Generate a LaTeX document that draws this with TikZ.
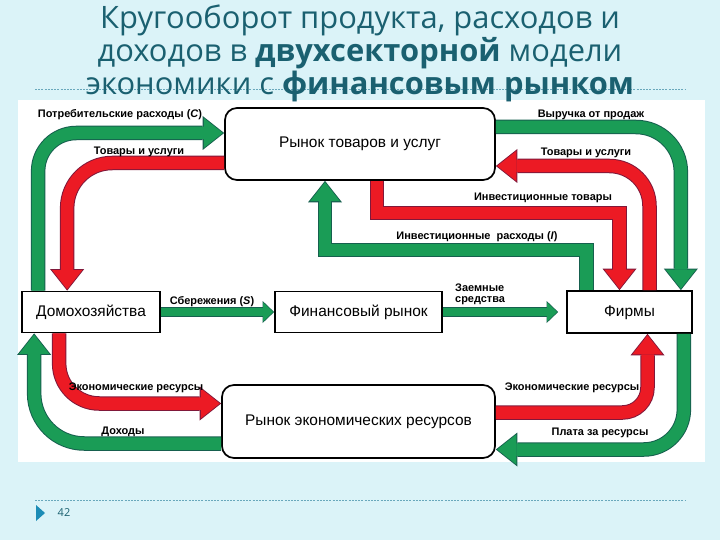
\documentclass[tikz,border=0pt]{standalone}
\usepackage{fontspec}
\setmainfont{Liberation Sans}
\newfontfamily\titlefont{Open Sans}
\usetikzlibrary{calc,positioning,arrows.meta}

\definecolor{bgcyan}{RGB}{219,243,248}
\definecolor{titleteal}{RGB}{26,96,112}
\definecolor{dashcol}{RGB}{105,168,188}
\definecolor{triblue}{RGB}{28,140,182}
\definecolor{flowgreen}{RGB}{26,156,86}
\definecolor{edgegreen}{RGB}{22,96,78}
\definecolor{flowred}{RGB}{236,26,36}
\definecolor{edgered}{RGB}{128,24,58}

\begin{document}
\begin{tikzpicture}[x=1bp, y=-1bp,
    ttl/.style={inner sep=0pt, text=titleteal, font=\titlefont\fontsize{31}{33}\selectfont},
    box/.style={draw, line width=1.7bp, fill=white, inner sep=0pt,
                text height=11bp, text depth=3bp,
                font=\fontsize{15.5}{17}\selectfont},
    rbox/.style={box, rounded corners=12bp},
    lbl/.style={inner sep=0pt, font=\fontsize{11}{11}\selectfont\bfseries},
    gflow/.style={draw=flowgreen, line width=12.5bp, shorten >=1.4bp,
        -{Triangle[width=30bp,length=19bp,line width=0pt]},
        preaction={draw=edgegreen, line width=14.5bp, shorten >=0pt,
            -{Triangle[width=34bp,length=21.5bp,line width=0pt]}}},
    rflow/.style={draw=flowred, line width=12.5bp, shorten >=1.4bp,
        -{Triangle[width=30bp,length=19bp,line width=0pt]},
        preaction={draw=edgered, line width=14.5bp, shorten >=0pt,
            -{Triangle[width=34bp,length=21.5bp,line width=0pt]}}},
    gthin/.style={draw=flowgreen, line width=8bp, shorten >=1bp,
        -{Triangle[width=19bp,length=10bp,line width=0pt]},
        preaction={draw=edgegreen, line width=9.6bp, shorten >=0pt,
            -{Triangle[width=22bp,length=11.5bp,line width=0pt]}}}]
    \fill[bgcyan] (0,0) rectangle (720,540);
    \useasboundingbox (0,0) rectangle (720,540);
    \fill[white] (18,100) rectangle (705,462);
    \draw[dashcol, line width=0.6bp, dash pattern=on 2bp off 1.2bp] (35,89) -- (685,89);
    \draw[dashcol, line width=0.6bp, dash pattern=on 2bp off 1.2bp] (35,500) -- (685,500);
    %% заголовок
    \node[ttl, anchor=base] (t1) at (360,29) {Кругооборот продукта, расходов и};
    \node[ttl, anchor=base] (t2) at (360,62) {доходов в \textbf{двухсекторной} модели};
    \node[ttl, anchor=base] (t3) at (360,95) {экономики с \textbf{финансовым рынком}};
    %% блоки
    \node[rbox, minimum width=270bp, minimum height=72bp] (goods) at (360,144) {Рынок товаров и услуг};
    \node[box, minimum width=138bp, minimum height=41bp] (hh) at (91,312) {Домохозяйства};
    \node[box, minimum width=167bp, minimum height=41bp] (fin) at (358.5,312) {Финансовый рынок};
    \node[box, minimum width=125bp, minimum height=42bp] (firms) at (629.5,312) {Фирмы};
    \node[rbox, minimum width=273bp, minimum height=73bp] (res) at (358.5,421.5) {Рынок экономических ресурсов};
    %% верхний контур
    \draw[gflow, rounded corners=38bp] ($(hh.north west)+(17,0)$) |- ($(goods.west)+(0,-11)$);
    \draw[rflow, rounded corners=45bp] ($(goods.west)+(0,19)$) -| ($(hh.north west)+(46,0)$);
    \draw[gflow, rounded corners=45bp] ($(goods.east)+(0,-17)$) -| ($(firms.north east)+(-12,0)$);
    \draw[rflow, rounded corners=40bp] ($(firms.north)+(20,0)$) |- ($(goods.east)+(0,22)$);
    %% инвестиции
    \draw[rflow] ($(goods.south)+(17,0)$) -- ++(0,32) -| ($(firms.north)+(-10,0)$);
    \draw[gflow] ($(firms.north)+(-43,0)$) -- ++(0,-40) -| ($(goods.south)+(-35,0)$);
    %% финансовый рынок
    \draw[gthin] (hh.east) -- (fin.west);
    \draw[gthin] (fin.east) -- ($(firms.west)+(-8,0)$);
    %% нижний контур
    \draw[rflow, rounded corners=40bp] ($(hh.south west)+(38,0)$) |- ($(res.west)+(0,-18)$);
    \draw[gflow, rounded corners=50bp] ($(res.west)+(0,22)$) -| ($(hh.south west)+(13,0)$);
    \draw[rflow, rounded corners=25bp] ($(res.east)+(0,-9)$) -| ($(firms.south)+(18,0)$);
    \draw[gflow, rounded corners=40bp] ($(firms.south east)+(-9,0)$) |- ($(res.east)+(0,28)$);
    %% подписи
    \node[lbl] (lcons) at (120,115) {Потребительские расходы (\textit{C})};
    \node[lbl] (lgoodsl) at (139,152) {Товары и услуги};
    \node[lbl] (lrev) at (591,115) {Выручка от продаж};
    \node[lbl] (lgoodsr) at (586,153) {Товары и услуги};
    \node[lbl] (linvg) at (543,198) {Инвестиционные товары};
    \node[lbl] (linvs) at (477,237) {Инвестиционные\ \ расходы (\textit{I})};
    \node[lbl] (lsav) at (212,302) {Сбережения (\textit{S})};
    \node[lbl, align=left, anchor=north west] (lloan) at (455,284) {Заемные\\средства};
    \node[lbl] (lresl) at (136,388) {Экономические ресурсы};
    \node[lbl] (linc) at (123,432) {Доходы};
    \node[lbl] (lresr) at (572,388) {Экономические ресурсы};
    \node[lbl] (lpay) at (600,433) {Плата за ресурсы};
    %% номер слайда
    \fill[triblue] (36,505) -- (45,513) -- (36,521) -- cycle;
    \node[text=titleteal, font=\titlefont\fontsize{11}{12}\selectfont] (pg) at (64,513) {42};
\end{tikzpicture}
\end{document}
